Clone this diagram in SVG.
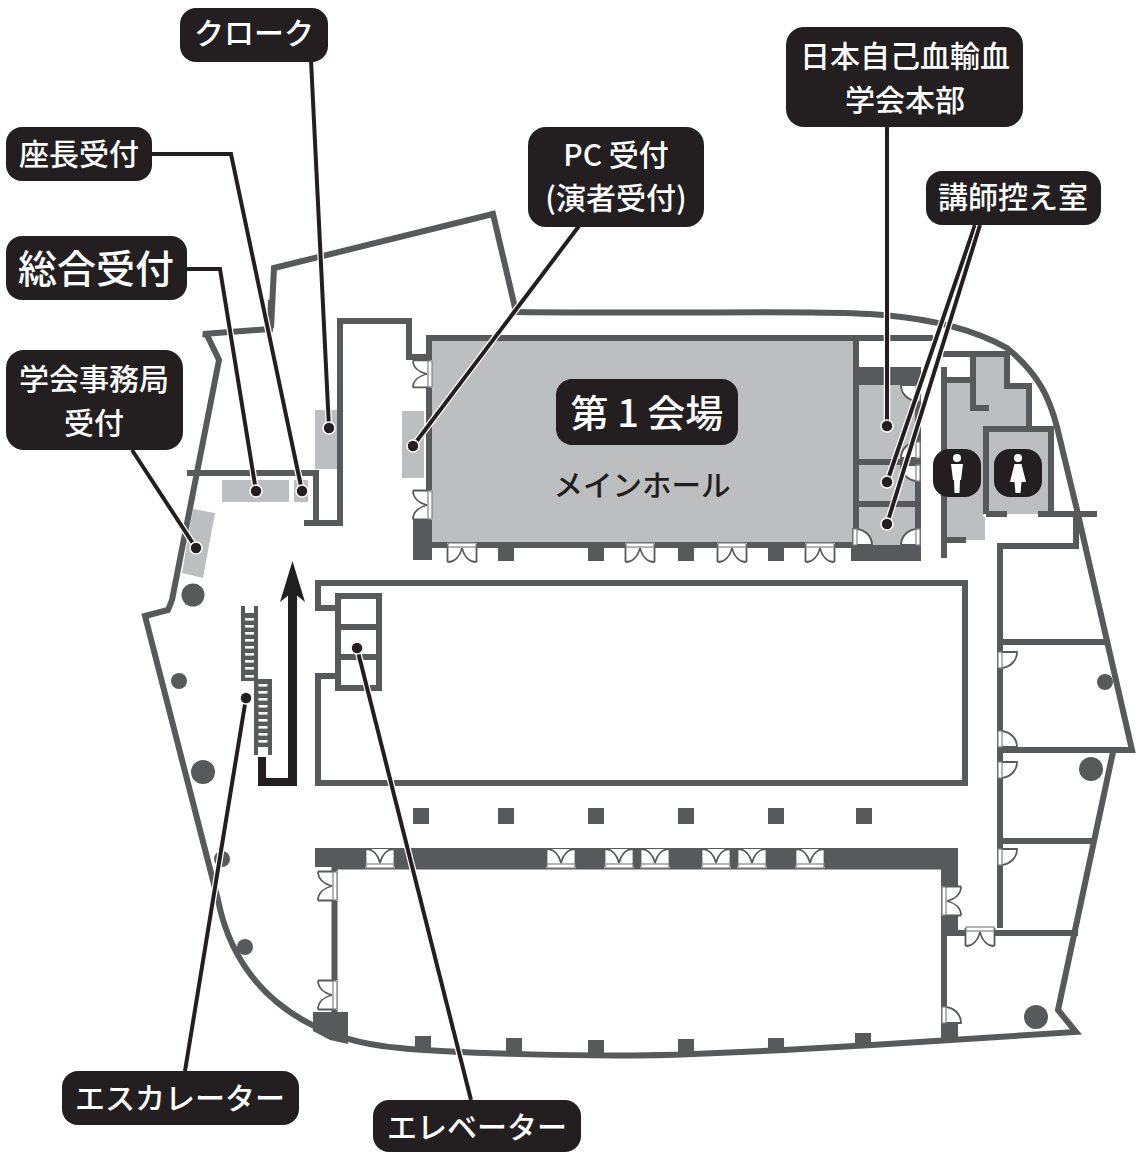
<svg xmlns="http://www.w3.org/2000/svg" width="1139" height="1152" viewBox="0 0 1139 1152">
<style>
.w{fill:none;stroke:#58595b;stroke-width:6}
.d{fill:#58595b}
.g{fill:#bcbec0}
.lb{fill:#231f20}
.t{font-family:"Noto Sans CJK JP","Noto Sans",sans-serif;fill:#fff;font-size:30px;font-weight:500;text-anchor:middle}
.halo{fill:none;stroke:#fff;stroke-width:6.5}
.cn{fill:none;stroke:#231f20;stroke-width:4}
.dot{fill:#231f20;stroke:#fff;stroke-width:1.5}
.dr{fill:#fff;stroke:#808285;stroke-width:1.2}
.da{fill:none;stroke:#58595b;stroke-width:1.8}
</style>
<defs>
<g id="dbl">
<rect x="0" y="0" width="30" height="19" fill="#fff"/>
<path class="da" d="M0.500,19V1M29.500,19V1M0.500,19C8,19 13,13 15,5C17,13 22,19 29.500,19"/>
<rect class="dr" x="1" y="0" width="28" height="4"/>
</g>
<g id="sgl">
<path d="M0,0H19C19,9 12,15 4,16H0Z" fill="#fff" stroke="#58595b" stroke-width="1.800"/>
<rect class="dr" x="0" y="0" width="4" height="16"/>
</g>
<g id="rung"><rect width="9" height="2.6" fill="#fff"/></g>
</defs>

<g id="plan">
<!-- grey rooms -->
<rect class="g" x="315" y="410" width="26" height="59"/>
<rect class="g" x="402" y="411" width="22" height="67"/>
<rect class="g" x="222" y="480" width="67" height="22"/>
<rect class="g" x="294" y="480" width="14" height="22"/>
<polygon class="g" points="193,509 215,513 203,578 182,573"/>
<rect class="g" x="430" y="340" width="425" height="204"/>
<rect class="g" x="859" y="385" width="58" height="160"/>
<polygon class="g" points="976,357 1004,357 1004,389 1026,389 1026,426 983,426 983,517 985,517 985,540 947,540 947,383 970,383 970,411 976,411"/>
<polygon class="g" points="989,432 1048,432 1048,514 989,514"/>

<!-- outer walls -->
<path class="w" d="M271,300L270,329L203,334L207,335L219,360L172,600L168,610L145,616L218,900C235,985 300,1040 400,1048C450,1053 600,1058 694,1054L784,1050L872,1045L1076,1032L1058,1010L1113,752"/>
<path class="w" d="M271,328L274,268L493,214L516,312"/>
<path class="w" d="M516,312C700,314 820,310 883,315C930,319 975,330 1007,348C1040,375 1050,400 1057,427L1077,510L1132,750H1000"/>
<!-- upper left walls -->
<path class="w" d="M187,473H316V523M304,523H340V321H409V357H430"/>
<!-- hall 1 -->
<rect class="w" x="429" y="338" width="427" height="207"/>
<path class="w" d="M856,338H933"/>
<rect class="d" x="413" y="520" width="19" height="40"/>
<rect class="d" x="498" y="543" width="16" height="18"/>
<rect class="d" x="588" y="543" width="16" height="18"/>
<rect class="d" x="678" y="543" width="16" height="18"/>
<rect class="d" x="768" y="543" width="16" height="18"/>
<!-- side rooms -->
<rect class="d" x="859" y="367" width="62" height="18"/>
<rect class="d" x="851" y="545" width="70" height="16"/>
<path class="w" d="M918,385V545M859,462H918M859,504H918"/>
<!-- toilets -->
<path class="w" d="M944,367V558M947,380H973M943,354H1007M973,354V408H989M1007,351V386H1029V428M986,514V429H1051V514M986,514H1007M1038,514H1097M947,540H966"/>
<path class="w" d="M1076,514V546H1000V928"/>
<path class="w" d="M1000,642H1106M1000,841H1092"/>
<!-- central room -->
<path class="w" d="M338,608H318V583H965V783H318V676H338"/>
<rect class="w" x="338" y="596" width="41" height="92"/>
<path class="w" d="M338,627H379M338,657H379"/>
<!-- escalators -->
<rect class="d" x="241" y="606" width="17" height="75"/>
<rect x="245" y="606" width="9" height="7" fill="#fff"/>
<use href="#rung" x="245" y="618"/><use href="#rung" x="245" y="625"/><use href="#rung" x="245" y="632"/><use href="#rung" x="245" y="639"/><use href="#rung" x="245" y="646"/><use href="#rung" x="245" y="653"/><use href="#rung" x="245" y="660"/><use href="#rung" x="245" y="667"/><use href="#rung" x="245" y="675"/>
<rect class="d" x="254" y="679" width="18" height="76"/>
<rect x="258" y="747" width="10" height="8" fill="#fff"/>
<use href="#rung" x="258.500" y="684"/><use href="#rung" x="258.500" y="691"/><use href="#rung" x="258.500" y="698"/><use href="#rung" x="258.500" y="705"/><use href="#rung" x="258.500" y="712"/><use href="#rung" x="258.500" y="719"/><use href="#rung" x="258.500" y="726"/><use href="#rung" x="258.500" y="733"/><use href="#rung" x="258.500" y="740"/>
<!-- arrow -->
<path d="M258,757H266V778H288V590H297V786H258Z" fill="#231f20"/>
<polygon points="292.500,561 305,602 292.500,592 280,602" fill="#231f20"/>
<!-- pillars row -->
<rect class="d" x="413" y="808" width="16" height="16"/>
<rect class="d" x="498" y="808" width="16" height="16"/>
<rect class="d" x="588" y="808" width="16" height="16"/>
<rect class="d" x="678" y="808" width="16" height="16"/>
<rect class="d" x="768" y="808" width="16" height="16"/>
<rect class="d" x="856" y="808" width="16" height="16"/>
<!-- lower hall -->
<rect class="d" x="315" y="848" width="643" height="19"/>
<rect class="d" x="337" y="866" width="621" height="3.500"/>
<path class="w" d="M334.500,867V1014M944,867V1040M941,933H1078"/>
<rect class="d" x="941" y="848" width="17" height="38"/>
<rect class="d" x="941" y="916" width="17" height="16"/>
<rect class="d" x="941" y="1023" width="17" height="16"/>
<polygon class="d" points="313,1012 348,1012 348,1044 330,1040 313,1031"/>
<rect class="d" x="415" y="1036" width="16" height="16"/>
<rect class="d" x="506" y="1038" width="16" height="16"/>
<rect class="d" x="588" y="1040" width="16" height="16"/>
<rect class="d" x="678" y="1039" width="16" height="16"/>
<rect class="d" x="768" y="1038" width="16" height="13"/>
<rect class="d" x="855" y="1033" width="16" height="13"/>
<!-- columns -->
<circle class="d" cx="193" cy="595" r="11.500"/>
<circle class="d" cx="179" cy="681" r="8"/>
<circle class="d" cx="203" cy="772" r="12"/>
<circle class="d" cx="222" cy="859" r="8"/>
<circle class="d" cx="245" cy="947" r="8"/>
<circle class="d" cx="1105" cy="682" r="8"/>
<circle class="d" cx="1091" cy="769" r="12"/>
<circle class="d" cx="1036" cy="1017" r="12"/>
<!-- doors -->
<use href="#dbl" transform="translate(447,543)"/>
<use href="#dbl" transform="translate(625,543)"/>
<use href="#dbl" transform="translate(717,543)"/>
<use href="#dbl" transform="translate(805,543)"/>
<use href="#dbl" transform="translate(395,868) rotate(180)"/>
<use href="#dbl" transform="translate(576,868) rotate(180)"/>
<use href="#dbl" transform="translate(634,868) rotate(180)"/>
<use href="#dbl" transform="translate(670,868) rotate(180)"/>
<use href="#dbl" transform="translate(731,868) rotate(180)"/>
<use href="#dbl" transform="translate(767,868) rotate(180)"/>
<use href="#dbl" transform="translate(825,868) rotate(180)"/>
<use href="#dbl" transform="translate(432,360) rotate(90) scale(.93,1)"/>
<use href="#dbl" transform="translate(432,490) rotate(90)"/>
<use href="#dbl" transform="translate(337,871) rotate(90)"/>
<use href="#dbl" transform="translate(337,980) rotate(90)"/>
<use href="#dbl" transform="translate(942,886) rotate(-90) translate(-30,0)"/>
<use href="#dbl" transform="translate(965,927)"/>
<use href="#sgl" transform="translate(998,652)"/>
<use href="#sgl" transform="translate(998,747) scale(1,-1)"/>
<use href="#sgl" transform="translate(998,762)"/>
<use href="#sgl" transform="translate(998,849)"/>
<use href="#sgl" transform="translate(942,1023) scale(1,-1)"/>
<use href="#sgl" transform="translate(920,385) scale(-1,1)"/>
<use href="#sgl" transform="translate(920,458) scale(-1,-1)"/>
<use href="#sgl" transform="translate(920,465) scale(-1,1)"/>
<use href="#sgl" transform="translate(853,545) scale(1,-1)"/>
<use href="#sgl" transform="translate(920,545) scale(-1,-1)"/>
<text x="642" y="496" font-family="'Noto Sans CJK JP',sans-serif" font-size="29.500" font-weight="500" fill="#231f20" text-anchor="middle">メインホール</text>
</g>

<g id="connectors">
<path class="halo" d="M311,60L329,428"/><path class="cn" d="M311,60L329,428"/>
<path class="halo" d="M152,154H231L302,491"/><path class="cn" d="M152,154H231L302,491"/>
<path class="halo" d="M187,269H220L256,491"/><path class="cn" d="M187,269H220L256,491"/>
<path class="halo" d="M132,450L196,548"/><path class="cn" d="M132,450L196,548"/>
<path class="halo" d="M579,226L413,446"/><path class="cn" d="M579,226L413,446"/>
<path class="halo" d="M887,127V426"/><path class="cn" d="M887,127V426"/>
<path class="halo" d="M975,225L887,482"/><path class="cn" d="M975,225L887,482"/>
<path class="halo" d="M980,225L887,524"/><path class="cn" d="M980,225L887,524"/>
<path class="halo" d="M185,1071L246,698"/><path class="cn" d="M185,1071L246,698"/>
<path class="halo" d="M471,1100L357,648"/><path class="cn" d="M471,1100L357,648"/>
<circle class="dot" cx="329" cy="428" r="6"/>
<circle class="dot" cx="302" cy="491" r="6"/>
<circle class="dot" cx="256" cy="491" r="6"/>
<circle class="dot" cx="196" cy="548" r="6"/>
<circle class="dot" cx="413" cy="446" r="6"/>
<circle class="dot" cx="887" cy="426" r="6"/>
<circle class="dot" cx="887" cy="482" r="6"/>
<circle class="dot" cx="887" cy="524" r="6"/>
<circle class="dot" cx="246" cy="698" r="6"/>
<circle class="dot" cx="357" cy="648" r="6"/>
</g>

<g id="toilet-men">
<rect class="lb" x="933" y="449" width="48" height="48" rx="16"/>
<circle cx="957" cy="458" r="4" fill="#fff"/>
<path d="M951,464H963L961,480H960L959.500,493H954.500L954,480H953Z" fill="#fff"/>
</g>
<g id="toilet-women">
<rect class="lb" x="994" y="449" width="48" height="48" rx="16"/>
<circle cx="1018" cy="458" r="4" fill="#fff"/>
<path d="M1014.500,464H1021.500L1026,482H1021.500L1020.500,493H1015.500L1014.500,482H1010Z" fill="#fff"/>
</g>

<g id="n-cloak"><rect class="lb" x="180" y="8" width="148" height="54" rx="16"/><text class="t" x="254" y="44">クローク</text></g>
<g id="n-chair"><rect class="lb" x="6" y="127" width="146" height="54" rx="16"/><text class="t" x="79" y="165">座長受付</text></g>
<g id="n-general"><rect class="lb" x="6" y="236" width="181" height="64" rx="16"/><text class="t" x="96" y="283" style="font-size:39px">総合受付</text></g>
<g id="n-secretariat"><rect class="lb" x="6" y="350" width="177" height="100" rx="18"/><text class="t" x="94" y="390">学会事務局</text><text class="t" x="94" y="434">受付</text></g>
<g id="n-hq"><rect class="lb" x="786" y="27" width="237" height="100" rx="18"/><text class="t" x="905" y="67">日本自己血輸血</text><text class="t" x="905" y="111">学会本部</text></g>
<g id="n-lecturer"><rect class="lb" x="926" y="171" width="175" height="54" rx="16"/><text class="t" x="1013" y="208">講師控え室</text></g>
<g id="n-pc"><rect class="lb" x="528" y="127" width="176" height="100" rx="18"/><text class="t" x="616" y="166">PC 受付</text><text class="t" x="616" y="209">(演者受付)</text></g>
<g id="n-hall"><rect class="lb" x="556" y="379" width="182" height="66" rx="16"/><text class="t" x="647" y="427" style="font-size:38px">第 1 会場</text></g>
<g id="n-escalator"><rect class="lb" x="62" y="1071" width="237" height="54" rx="16"/><text class="t" x="180" y="1109">エスカレーター</text></g>
<g id="n-elevator"><rect class="lb" x="373" y="1100" width="208" height="52" rx="16"/><text class="t" x="477" y="1138">エレベーター</text></g>
</svg>
